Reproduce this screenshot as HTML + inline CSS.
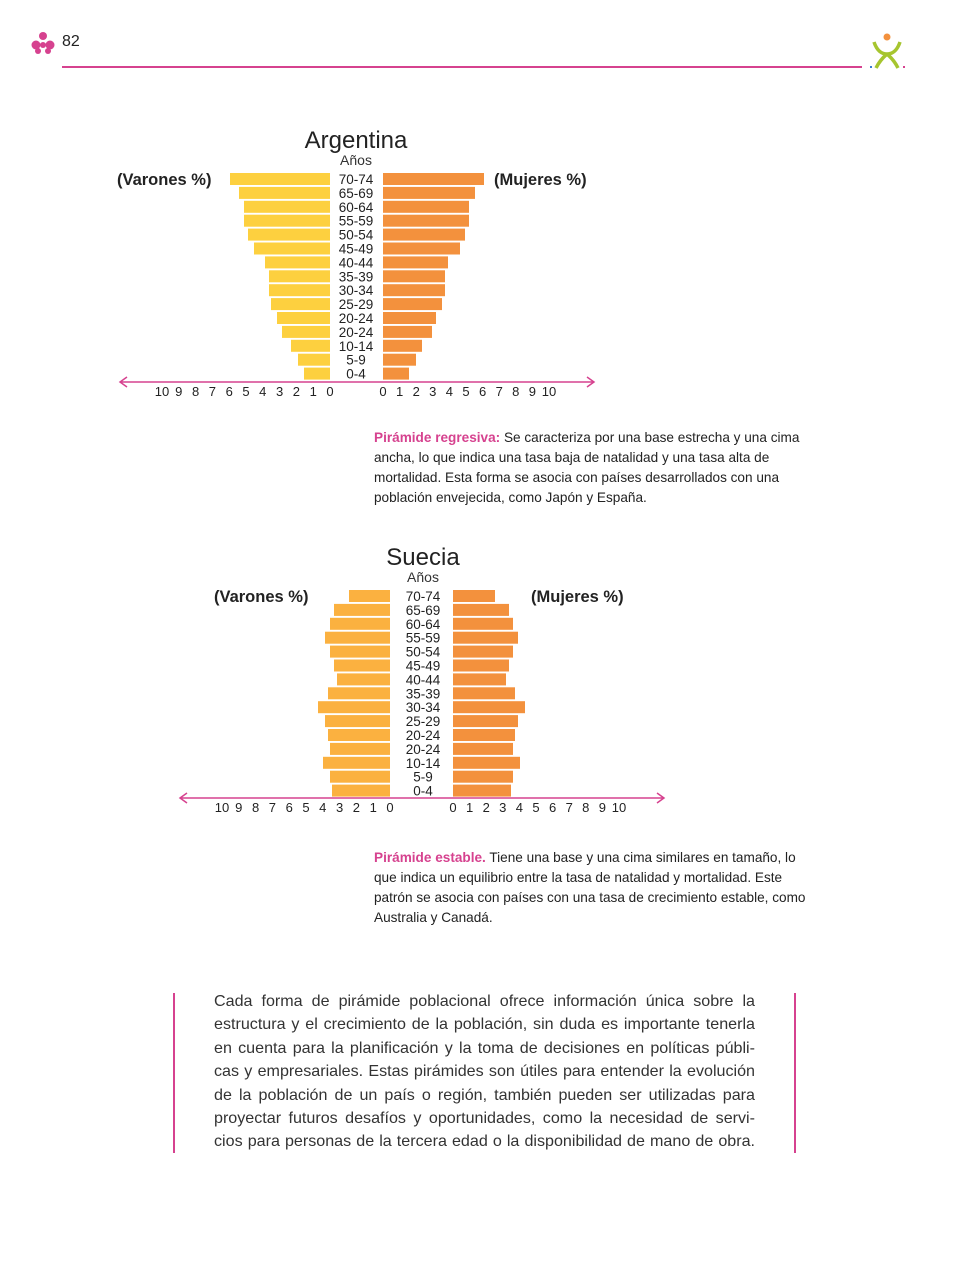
<!DOCTYPE html>
<html><head><meta charset="utf-8">
<style>
body{margin:0;background:#fff;}
#page{position:relative;width:968px;height:1276px;overflow:hidden;background:#fff;font-family:"Liberation Sans",sans-serif;color:#222;}
.abs{position:absolute;}
.para{position:absolute;left:374px;font-size:13.6px;line-height:20px;color:#222;white-space:nowrap;}
.para b{color:#d6428f;}
.body{position:absolute;left:214px;width:541px;font-size:16.1px;line-height:23.4px;color:#333;}
.body div{text-align:justify;text-align-last:justify;white-space:nowrap;}
.body div.last{text-align-last:left;}
</style></head>
<body>
<div id="page">
  <svg class="abs" style="left:30px;top:30px" width="28" height="28">
    <g fill="#d6428f">
      <circle cx="13" cy="6" r="4"/><circle cx="6" cy="15" r="4.5"/><circle cx="20" cy="15" r="4.5"/><circle cx="13" cy="15" r="3"/><circle cx="8" cy="21" r="3"/><circle cx="18" cy="21" r="3"/>
    </g>
  </svg>
  <div class="abs" style="left:62px;top:33px;font-size:16px;font-family:'Liberation Sans Narrow','Liberation Sans',sans-serif;color:#222">82</div>
  <div class="abs" style="left:62px;top:66px;width:800px;height:1.5px;background:#d6428f"></div>
  <svg class="abs" style="left:866px;top:32px" width="44" height="40">
    <circle cx="21" cy="5" r="3.5" fill="#f3913d"/>
    <path d="M8 10 Q12 22 21 22 Q30 22 34 10 M21 22 Q14 28 10 36 M21 22 Q28 28 32 36" stroke="#a6c52f" stroke-width="3.5" fill="none"/>
    <rect x="4" y="34" width="2" height="2" fill="#3a7bd5"/><rect x="37" y="34" width="2" height="2" fill="#d6428f"/>
  </svg>

  <svg id="chart1" class="abs" style="left:0;top:0" width="968" height="420"></svg>
  <svg id="chart2" class="abs" style="left:0;top:0" width="968" height="830"></svg>

  <div class="para" style="top:428px">
    <div><b>Pirámide regresiva:</b> Se caracteriza por una base estrecha y una cima</div>
    <div>ancha, lo que indica una tasa baja de natalidad y una tasa alta de</div>
    <div>mortalidad. Esta forma se asocia con países desarrollados con una</div>
    <div>población envejecida, como Japón y España.</div>
  </div>
  <div class="para" style="top:848px">
    <div><b>Pirámide estable.</b> Tiene una base y una cima similares en tamaño, lo</div>
    <div>que indica un equilibrio entre la tasa de natalidad y mortalidad. Este</div>
    <div>patrón se asocia con países con una tasa de crecimiento estable, como</div>
    <div>Australia y Canadá.</div>
  </div>

  <div class="abs" style="left:173px;top:993px;width:2px;height:160px;background:#d6428f"></div>
  <div class="abs" style="left:794px;top:993px;width:2px;height:160px;background:#d6428f"></div>
  <div class="body" style="top:990px">
    <div>Cada forma de pirámide poblacional ofrece información única sobre la</div>
    <div>estructura y el crecimiento de la población, sin duda es importante tenerla</div>
    <div>en cuenta para la planificación y la toma de decisiones en políticas públi-</div>
    <div>cas y empresariales. Estas pirámides son útiles para entender la evolución</div>
    <div>de la población de un país o región, también pueden ser utilizadas para</div>
    <div>proyectar futuros desafíos y oportunidades, como la necesidad de servi-</div>
    <div>cios para personas de la tercera edad o la disponibilidad de mano de obra.</div>
  </div>
</div>
<script>
const ageGroups = ["70-74","65-69","60-64","55-59","50-54","45-49","40-44","35-39","30-34","25-29","20-24","20-24","10-14","5-9","0-4"];
const argMen = [10.0,9.1,8.6,8.6,8.2,7.6,6.5,6.1,6.1,5.9,5.3,4.8,3.9,3.2,2.6];
const argWomen = [10.1,9.2,8.6,8.6,8.2,7.7,6.5,6.2,6.2,5.9,5.3,4.9,3.9,3.3,2.6];
const sweMen = [4.1,5.6,6.0,6.5,6.0,5.6,5.3,6.2,7.2,6.5,6.2,6.0,6.7,6.0,5.8];
const sweWomen = [4.2,5.6,6.0,6.5,6.0,5.6,5.3,6.2,7.2,6.5,6.2,6.0,6.7,6.0,5.8];
const tickLabels = ["0","1","2","3","4","5","6","7","8","9","10"];

const NS = "http://www.w3.org/2000/svg";
function mk(svg, tag, attrs){const e=document.createElementNS(NS,tag);for(const k in attrs)e.setAttribute(k,attrs[k]);svg.appendChild(e);return e;}

function drawPyramid(svgId, cfg, men, women){
  const svg=document.getElementById(svgId);
  const scale=v=>v*10;
  const rowY=i=>cfg.top+i*13.9;
  let t;
  t=mk(svg,"text",{x:cfg.center,y:cfg.top-25,"text-anchor":"middle","font-size":24,fill:"#222","font-family":"Liberation Sans, sans-serif"});
  t.textContent=cfg.title;
  
  
  t=mk(svg,"text",{x:cfg.center,y:cfg.top-8,"text-anchor":"middle","font-size":14,fill:"#333","font-family":"Liberation Sans, sans-serif"});
  t.textContent="Años";
  
  
  t=mk(svg,"text",{x:cfg.menLabelX,y:cfg.top+12,"font-size":16.5,fill:"#222","font-weight":"bold","font-family":"Liberation Sans, sans-serif"});
  t.textContent="(Varones %)";
  
  
  t=mk(svg,"text",{x:cfg.womenLabelX,y:cfg.top+12,"font-size":16.5,fill:"#222","font-weight":"bold","font-family":"Liberation Sans, sans-serif"});
  t.textContent="(Mujeres %)";
  
  
  ageGroups.forEach((g,i)=>{
    const y=rowY(i);
    const w1=scale(men[i]);
    const r1=mk(svg,"rect",{x:cfg.leftEdge-w1,y:y,width:w1,height:12,fill:cfg.menColor});
    
    
    const w2=scale(women[i]);
    const r2=mk(svg,"rect",{x:cfg.rightEdge,y:y,width:w2,height:12,fill:"#f3913d"});
    
    
    const lt=mk(svg,"text",{x:cfg.center,y:y+11,"text-anchor":"middle","font-size":13.5,fill:"#222","font-family":"Liberation Sans, sans-serif"});
    lt.textContent=g;
    
    
  });
  const ay=cfg.axisY;
  const ax=mk(svg,"path",{d:`M${cfg.axL} ${ay} H${cfg.axR} M${cfg.axL+7} ${ay-5} L${cfg.axL} ${ay} L${cfg.axL+7} ${ay+5} M${cfg.axR-7} ${ay-5} L${cfg.axR} ${ay} L${cfg.axR-7} ${ay+5}`,stroke:"#d6428f","stroke-width":1.5,fill:"none"});
  
  
  tickLabels.forEach((lab,i)=>{
    const a=mk(svg,"text",{x:cfg.leftTick0-i*16.8,y:ay+14,"text-anchor":"middle","font-size":13,fill:"#222","font-family":"Liberation Sans, sans-serif"});
    a.textContent=lab;
    
    
    const b=mk(svg,"text",{x:cfg.rightTick0+i*16.6,y:ay+14,"text-anchor":"middle","font-size":13,fill:"#222","font-family":"Liberation Sans, sans-serif"});
    b.textContent=lab;
    
    
  });
}
drawPyramid("chart1",{title:"Argentina",center:356,top:173,leftEdge:330,rightEdge:383,menColor:"#fdd03f",menLabelX:117,womenLabelX:494,axisY:382,axL:120,axR:594,leftTick0:330,rightTick0:383},argMen,argWomen);
drawPyramid("chart2",{title:"Suecia",center:423,top:590,leftEdge:390,rightEdge:453,menColor:"#fbb140",menLabelX:214,womenLabelX:531,axisY:798,axL:180,axR:664,leftTick0:390,rightTick0:453},sweMen,sweWomen);
</script>
</body></html>
